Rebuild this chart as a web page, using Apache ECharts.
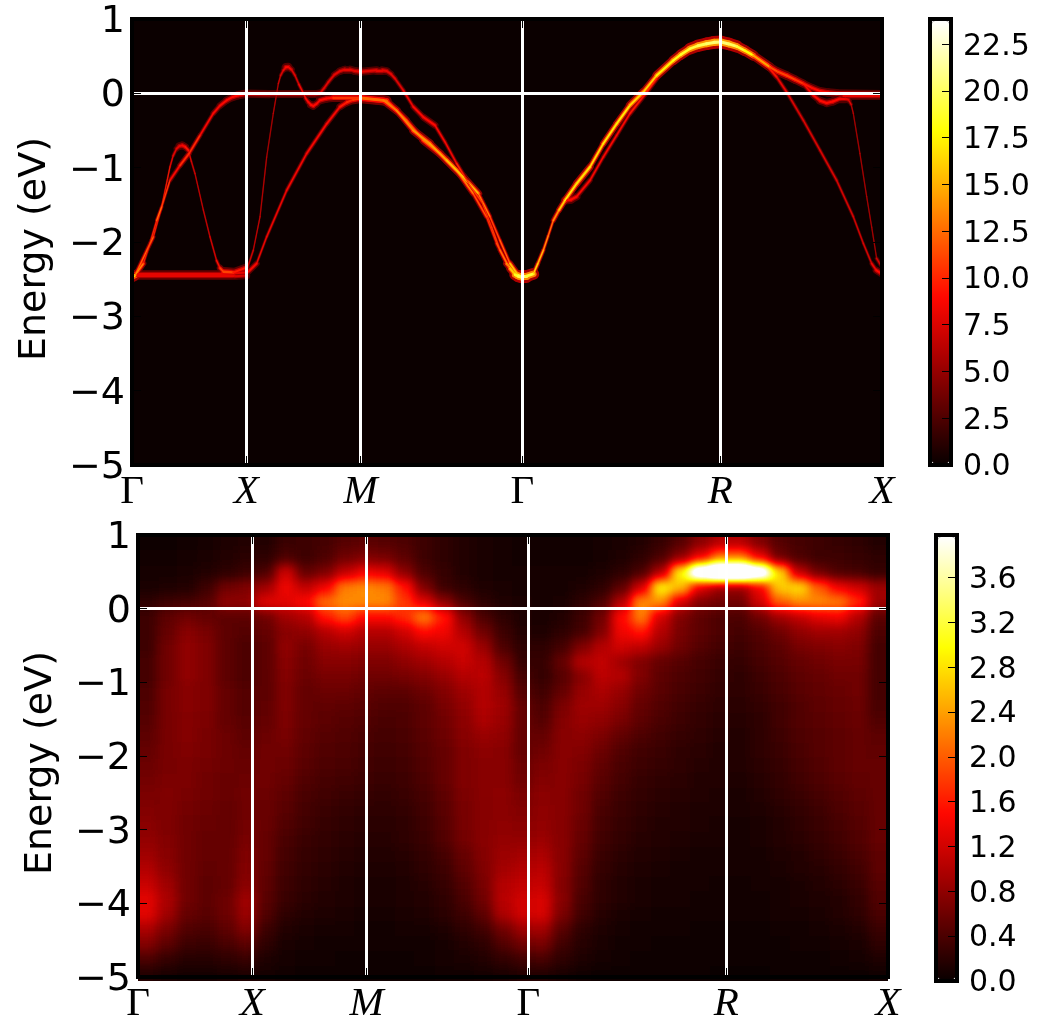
<!DOCTYPE html>
<html>
<head>
<meta charset="utf-8">
<title>Spectral function</title>
<script src="https://cdn.jsdelivr.net/npm/echarts@6/dist/echarts.min.js"></script>
<style>
	html, body { margin: 0; padding: 0; background: #fff; }
	#page { position: relative; width: 1043px; height: 1025px; overflow: hidden; }
	#heatClip { position: absolute; left: 138px; top: 535px; width: 750px; height: 446px; overflow: hidden; background: #000; }
	#heat { position: absolute; left: -20px; top: -15px; width: 790px; height: 476px; filter: url(#hotBlur); }
	#main { position: absolute; left: 0; top: 0; width: 1043px; height: 1025px; }
</style>
</head>
<body>
<!-- heat chart is drawn in gray, blurred, and only then coloured with the hot map -->
<svg width="0" height="0" style="position:absolute">
	<filter id="hotBlur" color-interpolation-filters="sRGB" x="0" y="0" width="100%" height="100%">
		<feGaussianBlur stdDeviation="5.5"/>
		<feComponentTransfer>
			<feFuncR type="table" tableValues=".043 .369 .698 1 1 1 1 1 1 1 1 1 1"/>
			<feFuncG type="table" tableValues="0 0 0 .027 .353 .682 1 1 1 1 1 1 1"/>
			<feFuncB type="table" tableValues="0 0 0 0 0 0 .004 .51 1 1 1 1 1"/>
		</feComponentTransfer>
	</filter>
</svg>
<div id="page">
	<div id="heatClip"><div id="heat"></div></div>
	<div id="main"></div>
</div>
<script>
// k path: high symmetry points and their labels
const kTicks = [0, 1, 2, 3.414, 5.146, 6.56];
const kLabels = ['Γ', 'X', 'M', 'Γ', 'R', 'X'];
const topBarTicks = [0, 2.5, 5, 7.5, 10, 12.5, 15, 17.5, 20, 22.5];
const bottomBarTicks = [0, 0.4, 0.8, 1.2, 1.6, 2, 2.4, 2.8, 3.2, 3.6];
const topBarMax = 23.85;
const bottomBarMax = 3.98;

// top panel, bands as [k, energy, intensity]
const bandUpper = [[0,-2.47,18],[.026,-2.45,16],[.099,-2.29,11],[.157,-2.02,10],[.216,-1.71,12],[.259,-1.53,15],[.332,-1.17,9],[.42,-.97,9],[.499,-.81,12],[.595,-.565,9],[.711,-.27,9],[.77,-.165,9],[.828,-.094,9],[.88,-.05,9],[.93,-.025,9],[1,-.005,9],
	[1.2,-.01,8],[1.5,-.01,8],[1.6,-.01,8],[1.644,0,8],[1.68,.07,8],[1.717,.15,8],[1.77,.25,8],[1.82,.3,8],[1.86,.32,8],[1.907,.32,8],[1.95,.3,8],[2,.29,8],[2.07,.3,8],[2.14,.31,8],[2.19,.31,8],[2.227,.3,8],[2.265,.26,8],[2.3,.2,8],[2.373,.04,8],[2.46,-.18,9],[2.548,-.32,9],[2.65,-.43,9],[2.738,-.655,9],[2.84,-.946,9],[2.956,-1.24,11],[3.06,-1.46,11],[3.146,-1.8,11],[3.219,-2.11,12],[3.306,-2.36,14],[3.35,-2.44,18],[3.38,-2.46,19],[3.414,-2.47,20]];
const bandSteep = [[1.003,-2.38,8],[1.061,-2.11,8],[1.12,-1.66,8],[1.178,-.857,7],[1.236,-.27,7],[1.28,.13,8],[1.3,.24,8],[1.324,.31,8],[1.345,.35,9],[1.367,.354,9],[1.395,.32,8],[1.426,.24,8],[1.46,.12,8],[1.499,0,10],[1.52,-.07,9],[1.542,-.117,9],[1.565,-.155,9],[1.586,-.17,9],[1.615,-.14,9],[1.644,-.094,9],[1.7,-.07,9],[1.761,-.058,9],[2,-.058,12],
	[2.198,-.094,13],[2.315,-.23,13],[2.46,-.5,14],[2.606,-.677,14],[2.752,-.9,15],[2.898,-1.126,16],[3.03,-1.35,15],[3.131,-1.66,12],[3.219,-1.98,12],[3.306,-2.29,14],[3.38,-2.45,18],[3.414,-2.48,20]];
const bandLower = [[1.017,-2.4,9],[1.09,-2.29,9],[1.178,-1.93,9],[1.353,-1.305,9],[1.528,-.81,9],[1.703,-.41,9],[1.82,-.18,9],[1.88,-.12,10],[1.936,-.085,10],[2,-.067,12],[2.227,-.1,13],[2.4,-.363,12],[2.548,-.632,13],[2.694,-.81,13],[2.84,-1.036,14],[2.985,-1.35,13],[3.1,-1.66,11],[3.19,-2.02,11],[3.277,-2.29,13],[3.364,-2.45,18],[3.414,-2.48,20]];
const bandHump = [[.026,-2.45,16],[.187,-1.93,9],[.259,-1.53,12],[.332,-.99,9],[.36,-.84,9],[.39,-.744,8],[.415,-.71,8],[.44,-.7,8],[.465,-.72,9],[.493,-.767,10],[.52,-.92,8],[.551,-1.08,8],[.624,-1.57,8],[.682,-1.93,8],[.74,-2.25,9],[.77,-2.35,10],[.8,-2.4,12],[.886,-2.41,10],[1,-2.345,9]];
const bandFlatA = [[0,-2.43,8],[.8,-2.43,8],[1,-2.41,8]];
const bandFlatB = [[0,-2.46,8],[.9,-2.46,8],[1,-2.45,7]];
const bandMain = [[3.414,-2.46,21],[3.45,-2.46,20],[3.51,-2.43,18],[3.55,-2.29,16],[3.598,-2.11,16],[3.64,-1.92,14],[3.685,-1.71,14],[3.735,-1.57,15],[3.787,-1.44,18],[3.889,-1.215,17],[4.006,-.99,17],[4.122,-.677,17],[4.239,-.41,18],[4.356,-.16,17],[4.473,.018,16],[4.589,.24,17],[4.735,.444,18],[4.8,.52,18.5],[4.88,.6,19],[4.95,.64,19.5],[5.026,.668,20],[5.09,.685,20.5],[5.152,.69,20.5],
	[5.22,.665,20.5],[5.289,.632,19.5],[5.36,.575,18.5],[5.434,.51,17],[5.58,.354,12],[5.65,.29,11],[5.726,.24,11],[5.8,.185,11],[5.872,.13,10],[5.945,.075,9],[6.018,.03,9],[6.09,.01,9],[6.163,0,9],[6.56,-.01,8]];
const bandSide = [[3.787,-1.44,9],[3.84,-1.43,9],[3.889,-1.39,9],[4.006,-1.17,9],[4.122,-.857,9],[4.239,-.565,9],[4.356,-.27,9],[4.502,.018,10],[4.589,.2,10]];
const bandFall = [[5.434,.51,12],[5.551,.377,10],[5.639,.22,9],[5.726,.018,8],[5.872,-.363,8],[6.018,-.767,8],[6.163,-1.17,8],[6.309,-1.66,8],[6.397,-2.02,8],[6.47,-2.29,8],[6.51,-2.38,9],[6.56,-2.43,9]];
const bandEdge = [[5.872,.13,9],[5.96,-.027,9],[6.02,-.1,9],[6.076,-.13,9],[6.13,-.11,9],[6.193,-.07,9],[6.24,-.07,8],[6.266,-.085,8],[6.29,-.15,8],[6.309,-.27,7],[6.367,-.81,7],[6.426,-1.39,7],[6.47,-1.8,7],[6.513,-2.22,7],[6.56,-2.34,8]];
const bandEnd = [[6.222,-.03,8],[6.56,-.03,8]];
const bands = [bandFlatA, bandFlatB, bandHump, bandLower, bandSteep, bandUpper, bandFall, bandEdge, bandEnd, bandSide, bandMain];

// bottom panel, 38 columns along k; rows from E=0.9 down to E=-4.9 in steps of 0.2
const heatRows = [
	[.03,.03,.05,.08,.12,.15,.15,.28,.3,.35,.45,.5,.45,.4,.3,.2,.15,.1,.08,.05,.05,.05,.05,.07,.1,.15,.25,.45,.75,1.0,1.0,.7,.45,.35,.3,.25,.2,.15],
	[.05,.05,.07,.1,.15,.18,.2,.4,.3,.4,.6,.7,.65,.5,.3,.2,.15,.1,.08,.05,.05,.05,.05,.08,.12,.2,.4,.8,1.4,2.2,2.2,1.4,.6,.4,.3,.3,.25,.2],
	[.08,.08,.1,.15,.2,.3,.4,1.2,.55,.7,1.1,1.4,1.3,.8,.4,.25,.15,.1,.08,.06,.06,.06,.08,.12,.2,.4,1.0,3.0,5.0,5.9,5.9,4.9,2.8,1.1,.6,.4,.35,.25],
	[.1,.12,.15,.3,.6,.7,.9,1.4,1.1,1.4,2.2,2.3,2.2,1.6,.7,.3,.2,.12,.1,.08,.08,.08,.12,.2,.5,1.2,3.0,2.6,1.3,.9,.9,1.4,2.7,2.8,2.0,1.4,1.2,.9],
	[.2,.3,.35,.45,.8,.8,1.3,1.3,1.5,2.1,2.3,2.3,2.3,1.8,1.3,.8,.4,.2,.12,.1,.08,.1,.2,.4,1.0,2.3,2.3,1.2,.7,.6,.6,1.2,2.0,2.3,2.3,2.2,1.7,.9],
	[.3,.5,.6,.55,.5,.5,.6,.9,1.0,1.6,1.9,1.5,1.5,1.7,2.2,1.6,.8,.4,.2,.12,.1,.15,.3,.6,1.5,2.2,1.2,.7,.5,.4,.4,.6,.9,1.1,1.3,1.4,1.0,.5],
	[.3,.55,.75,.65,.5,.45,.55,.75,.8,1.0,1.2,1.0,1.0,1.2,1.5,1.4,1.0,.6,.3,.15,.12,.2,.35,.7,1.4,1.6,1.0,.65,.5,.4,.35,.45,.6,.8,.9,.9,.8,.4],
	[.3,.6,.8,.7,.5,.4,.5,.8,.65,.85,.9,.85,.85,.95,1.1,1.2,1.2,.85,.4,.2,.2,.35,.7,1.0,1.2,1.1,.85,.6,.45,.35,.3,.4,.5,.65,.7,.75,.7,.35],
	[.35,.6,.8,.7,.5,.4,.5,.75,.6,.75,.75,.7,.7,.8,.9,1.0,1.15,1.0,.6,.25,.25,.55,1.0,1.1,.9,.7,.55,.45,.35,.28,.25,.35,.45,.55,.6,.65,.65,.35],
	[.35,.6,.8,.7,.5,.4,.5,.72,.58,.65,.65,.6,.6,.65,.72,.85,1.0,1.05,.75,.35,.25,.45,.75,1.05,1.0,.7,.5,.4,.32,.25,.22,.3,.4,.5,.55,.6,.62,.35],
	[.4,.65,.75,.7,.55,.45,.5,.7,.55,.58,.58,.52,.48,.5,.58,.72,.88,1.0,.85,.45,.32,.55,.85,.95,.85,.62,.47,.37,.3,.23,.2,.27,.37,.47,.52,.57,.6,.35],
	[.42,.65,.75,.7,.55,.45,.52,.7,.55,.52,.5,.47,.42,.42,.5,.65,.82,1.0,.88,.55,.4,.68,.88,.88,.75,.55,.42,.33,.26,.2,.18,.23,.33,.43,.48,.53,.58,.38],
	[.45,.65,.72,.68,.55,.47,.55,.68,.55,.48,.45,.42,.38,.4,.48,.6,.78,.95,.85,.55,.45,.72,.85,.8,.65,.48,.37,.3,.24,.19,.17,.22,.32,.42,.47,.52,.57,.42],
	[.48,.65,.72,.66,.58,.5,.58,.65,.52,.45,.42,.38,.34,.37,.46,.58,.75,.85,.8,.55,.55,.75,.78,.68,.52,.4,.32,.26,.2,.17,.15,.2,.3,.4,.45,.5,.55,.48],
	[.53,.65,.7,.65,.58,.53,.6,.62,.5,.43,.4,.36,.32,.35,.45,.55,.7,.78,.75,.55,.62,.75,.72,.58,.43,.33,.27,.22,.18,.15,.14,.2,.28,.38,.44,.5,.55,.52],
	[.58,.65,.68,.63,.58,.56,.6,.58,.47,.4,.37,.33,.3,.33,.43,.55,.7,.75,.75,.58,.68,.75,.68,.52,.38,.3,.25,.2,.17,.14,.13,.18,.26,.36,.43,.48,.53,.53],
	[.63,.68,.67,.62,.57,.58,.6,.55,.43,.36,.32,.3,.27,.3,.4,.53,.7,.75,.75,.62,.72,.76,.65,.47,.34,.26,.22,.18,.15,.13,.12,.16,.24,.33,.4,.46,.52,.53],
	[.68,.7,.65,.6,.56,.6,.58,.5,.38,.32,.28,.25,.23,.27,.36,.5,.68,.75,.78,.68,.78,.76,.62,.42,.3,.23,.19,.16,.13,.12,.1,.14,.2,.28,.35,.42,.5,.53],
	[.72,.7,.63,.58,.55,.62,.57,.46,.35,.28,.24,.22,.2,.24,.33,.47,.66,.75,.78,.72,.8,.76,.6,.38,.28,.2,.17,.14,.12,.11,.09,.12,.17,.24,.31,.39,.47,.54],
	[.78,.7,.61,.56,.55,.64,.56,.42,.32,.26,.21,.19,.19,.22,.31,.45,.65,.75,.8,.78,.83,.75,.57,.36,.26,.19,.15,.13,.11,.1,.08,.1,.15,.21,.28,.36,.45,.55],
	[.83,.72,.6,.55,.55,.66,.55,.38,.28,.23,.18,.17,.17,.2,.28,.42,.63,.75,.82,.83,.87,.75,.53,.33,.23,.17,.14,.12,.1,.09,.08,.09,.13,.18,.25,.33,.43,.55],
	[.9,.75,.6,.53,.55,.7,.53,.35,.25,.2,.16,.14,.14,.17,.24,.36,.55,.72,.87,.92,.95,.75,.48,.28,.19,.14,.11,.09,.08,.08,.07,.08,.11,.15,.2,.27,.37,.5],
	[1.0,.8,.6,.52,.55,.73,.52,.33,.23,.18,.14,.12,.12,.15,.2,.3,.48,.7,.92,1.0,1.05,.75,.45,.25,.17,.12,.09,.08,.07,.07,.06,.07,.09,.13,.17,.23,.33,.48],
	[1.15,.88,.6,.5,.55,.78,.5,.3,.21,.16,.12,.1,.1,.12,.17,.26,.42,.65,1.0,1.1,1.12,.72,.41,.22,.14,.1,.08,.07,.06,.05,.05,.06,.08,.1,.14,.19,.29,.45],
	[1.3,.95,.6,.5,.58,.88,.47,.27,.19,.13,.11,.09,.09,.11,.14,.22,.37,.6,1.03,1.2,1.25,.75,.37,.2,.13,.09,.07,.06,.05,.04,.04,.05,.07,.09,.11,.15,.24,.42],
	[1.3,.9,.55,.47,.58,.87,.42,.22,.15,.11,.09,.07,.07,.09,.12,.18,.3,.5,.95,1.2,1.25,.68,.32,.17,.1,.07,.05,.05,.04,.04,.04,.05,.06,.07,.09,.13,.2,.38],
	[.95,.68,.42,.37,.5,.72,.3,.15,.1,.08,.06,.05,.05,.06,.08,.12,.2,.32,.62,.88,.92,.47,.22,.12,.07,.05,.04,.04,.03,.03,.03,.03,.04,.05,.06,.09,.14,.28],
	[.72,.48,.3,.27,.38,.5,.2,.1,.07,.05,.04,.04,.04,.04,.05,.08,.14,.22,.42,.6,.65,.32,.16,.09,.05,.04,.03,.03,.03,.02,.02,.02,.03,.04,.04,.06,.1,.2],
	[.4,.26,.17,.17,.22,.28,.12,.07,.05,.04,.03,.03,.03,.03,.04,.06,.1,.14,.24,.33,.37,.2,.11,.06,.04,.03,.02,.02,.02,.02,.02,.02,.02,.03,.03,.04,.06,.12],
	[.15,.1,.08,.08,.1,.12,.06,.04,.03,.03,.02,.02,.02,.02,.03,.04,.05,.07,.1,.13,.15,.09,.05,.03,.03,.02,.02,.02,.02,.01,.01,.01,.02,.02,.02,.03,.03,.05]
];

// matplotlib "hot", evenly spaced stops
const hotColors = ['#0b0000', '#5e0000', '#b20000', '#ff0700', '#ff5a00', '#ffae00', '#ffff01', '#ffff82', '#ffffff'];

const PX_PER_EV = 74.33;
const PX_PER_K = 114.3;

function hot(t) {
	t = Math.max(0, Math.min(1, t));
	let p = t * (hotColors.length - 1);
	let i = Math.min(Math.floor(p), hotColors.length - 2);
	return echarts.color.lerp(p - i, [hotColors[i], hotColors[i + 1]]);
}

// one item per band segment, the width follows the slope since broadening is in energy
function bandSegments(wide, level) {
	let out = [];
	bands.forEach(function (band) {
		for (let i = 0; i < band.length - 1; i++) {
			let a = band[i], b = band[i + 1];
			let slope = Math.abs(b[1] - a[1]) * PX_PER_EV / (Math.abs(b[0] - a[0]) * PX_PER_K);
			let intensity = (a[2] + b[2]) / 2;
			let w = wide * Math.sqrt(intensity / 10);
			let width = Math.max(w / Math.sqrt(1 + slope * slope), w * 0.22);
			out.push({
				coords: [[a[0], a[1]], [b[0], b[1]]],
				lineStyle: { color: hot(level * intensity / topBarMax), width: width, opacity: 1, cap: 'round' }
			});
		}
	});
	return out;
}

// white guide lines on the high symmetry points and at the Fermi level
function guideLines() {
	let out = kTicks.slice(1, 5).map(function (k) { return { coords: [[k, -5], [k, 1]] }; });
	out.push({ coords: [[0, 0], [6.56, 0]] });
	return out;
}

const black = { onZero: false, lineStyle: { color: '#000', width: 4, cap: 'square' } };
const tickStyle = { show: true, inside: true, length: 9, lineStyle: { color: '#000', width: 1 } };

function panelAxes(gridIndex) {
	let x = {
		gridIndex: gridIndex, type: 'value', min: 0, max: 6.56, z: 10, splitLine: { show: false },
		axisLine: black, axisTick: Object.assign({ customValues: kTicks }, tickStyle)
	};
	let y = {
		gridIndex: gridIndex, type: 'value', min: -5, max: 1, interval: 1, z: 10, splitLine: { show: false },
		axisLine: black, axisTick: tickStyle
	};
	return {
		x: [
			Object.assign({}, x, {
				position: 'bottom',
				axisLabel: {
					customValues: kTicks, margin: 7, fontFamily: 'Liberation Serif', fontSize: 41, color: '#000',
					formatter: function (value) {
						let name = kLabels[kTicks.indexOf(value)];
						return name == 'Γ' ? name : '{i|' + name + '}';
					},
					rich: { i: { fontFamily: 'Liberation Serif', fontStyle: 'italic', fontSize: 41, color: '#000' } }
				}
			}),
			Object.assign({}, x, { position: 'top', axisLabel: { show: false } })
		],
		y: [
			Object.assign({}, y, {
				position: 'left',
				name: 'Energy (eV)', nameLocation: 'middle', nameGap: 78,
				nameTextStyle: { fontFamily: 'DejaVu Sans', fontSize: 38, color: '#000', padding: [0, 14, 0, 0] },
				axisLabel: {
					margin: 7, fontFamily: 'DejaVu Sans', fontSize: 38, color: '#000', verticalAlign: 'top', lineHeight: 6,
					formatter: function (v) { return String(v).replace('-', '\u2212'); }
				}
			}),
			Object.assign({}, y, { position: 'right', axisLabel: { show: false } })
		]
	};
}

function barAxes(gridIndex, max, ticks, margin) {
	return {
		x: { gridIndex: gridIndex, type: 'value', min: 0, max: 1, show: false },
		y: {
			gridIndex: gridIndex, type: 'value', min: 0, max: max, position: 'right', z: 10,
			splitLine: { show: false }, axisLine: black,
			axisTick: Object.assign({ customValues: ticks }, tickStyle),
			axisLabel: {
				customValues: ticks, margin: margin, fontFamily: 'DejaVu Sans', fontSize: 30, color: '#000', verticalAlign: 'top', lineHeight: 5,
				formatter: function (v) { return v.toFixed(1); }
			}
		}
	};
}

let topAxes = panelAxes(0), bottomAxes = panelAxes(2);
let topBar = barAxes(1, topBarMax, topBarTicks, 12);
let bottomBar = barAxes(3, bottomBarMax, bottomBarTicks, 12);

let mainOption = {
	animation: false,
	grid: [
		{ left: 132, top: 19, width: 750, height: 446, show: true, backgroundColor: '#0b0000', borderColor: '#000', borderWidth: 4 },
		{ left: 930, top: 19, width: 21, height: 446, show: true, borderColor: '#000', borderWidth: 4 },
		{ left: 138, top: 535, width: 750, height: 446, show: true, borderColor: '#000', borderWidth: 4 },
		{ left: 936, top: 535, width: 21, height: 446, show: true, borderColor: '#000', borderWidth: 4 }
	],
	// xAxis 0,1 top panel; 2 top bar; 3,4 bottom panel; 5 bottom bar. same order for yAxis
	xAxis: [topAxes.x[0], topAxes.x[1], topBar.x, bottomAxes.x[0], bottomAxes.x[1], bottomBar.x],
	yAxis: [topAxes.y[0], topAxes.y[1], topBar.y, bottomAxes.y[0], bottomAxes.y[1], bottomBar.y],
	visualMap: [
		{
			type: 'continuous', min: 0, max: topBarMax, seriesIndex: [], calculable: false, hoverLink: false,
			indicatorSize: 0, indicatorStyle: { opacity: 0, borderWidth: 0, shadowBlur: 0 },
			showLabel: false, padding: 0, left: 932, top: 21, itemWidth: 17, itemHeight: 442,
			inRange: { color: hotColors }, outOfRange: { color: hotColors[0] }
		},
		{
			type: 'continuous', min: 0, max: bottomBarMax, seriesIndex: [], calculable: false, hoverLink: false,
			indicatorSize: 0, indicatorStyle: { opacity: 0, borderWidth: 0, shadowBlur: 0 },
			showLabel: false, padding: 0, left: 938, top: 537, itemWidth: 17, itemHeight: 442,
			inRange: { color: hotColors }, outOfRange: { color: hotColors[0] }
		}
	],
	series: [
		{ type: 'lines', coordinateSystem: 'cartesian2d', xAxisIndex: 0, yAxisIndex: 0, silent: true, data: bandSegments(9, 0.3) },
		{ type: 'lines', coordinateSystem: 'cartesian2d', xAxisIndex: 0, yAxisIndex: 0, silent: true, data: bandSegments(5, 0.7) },
		{ type: 'lines', coordinateSystem: 'cartesian2d', xAxisIndex: 0, yAxisIndex: 0, silent: true, data: bandSegments(2.2, 1) },
		{
			type: 'lines', coordinateSystem: 'cartesian2d', xAxisIndex: 0, yAxisIndex: 0, silent: true, z: 5,
			lineStyle: { color: '#fff', width: 3, opacity: 1 }, data: guideLines()
		},
		{
			type: 'lines', coordinateSystem: 'cartesian2d', xAxisIndex: 3, yAxisIndex: 3, silent: true, z: 5,
			lineStyle: { color: '#fff', width: 3, opacity: 1 }, data: guideLines()
		}
	]
};

// bottom panel heat map sits in its own filtered chart under the axes, edge cells repeated
// once so that the blur does not fade at the frame
let paddedRows = [heatRows[0]].concat(heatRows, [heatRows[heatRows.length - 1]]).reverse();
let heatData = [];
paddedRows.forEach(function (row, r) {
	let cells = [row[0]].concat(row, [row[row.length - 1]]);
	cells.forEach(function (v, c) { heatData.push([c, r, v]); });
});
let heatOption = {
	animation: false,
	grid: { left: 0, right: 0, top: 0, bottom: 0 },
	xAxis: { type: 'category', show: false, data: paddedRows[0].concat([0, 0]).map(function (v, i) { return i; }) },
	yAxis: { type: 'category', show: false, data: paddedRows.map(function (v, i) { return i; }) },
	// gray range reaches 1.5x the bar, the svg table holds white above the bar maximum
	visualMap: { show: false, min: 0, max: bottomBarMax * 1.5, inRange: { color: ['#000', '#fff'] } },
	series: [{ type: 'heatmap', data: heatData, silent: true, progressive: 0 }]
};

echarts.init(document.getElementById('heat')).setOption(heatOption);
echarts.init(document.getElementById('main')).setOption(mainOption);
</script>
</body>
</html>
